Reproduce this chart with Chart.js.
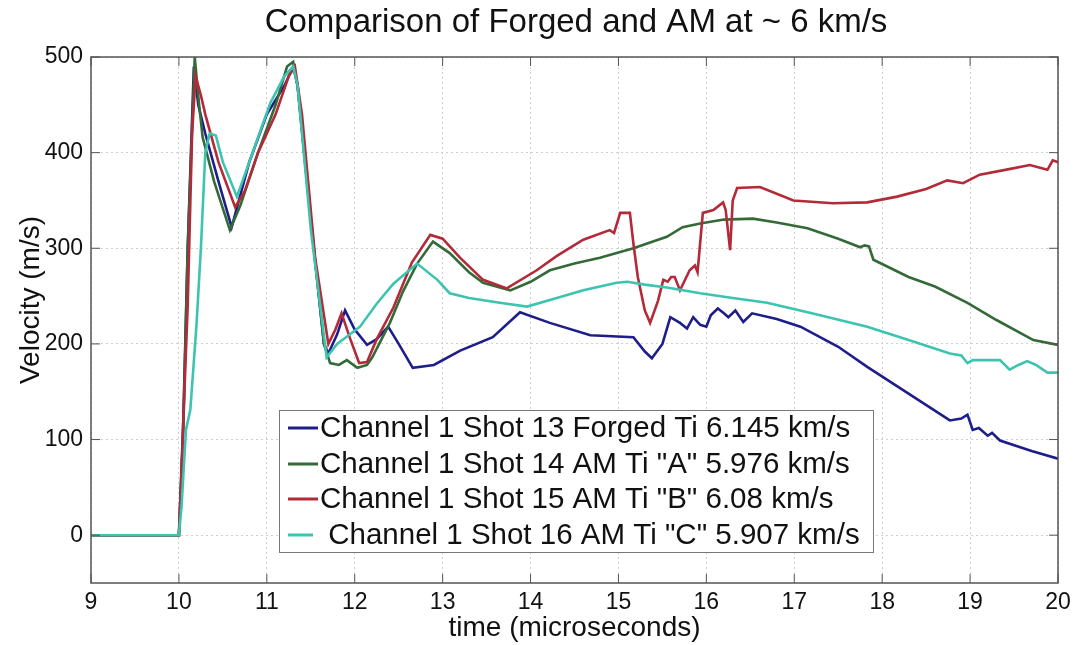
<!DOCTYPE html>
<html>
<head>
<meta charset="utf-8">
<title>Comparison of Forged and AM at ~ 6 km/s</title>
<script src="https://cdn.jsdelivr.net/npm/chart.js@4.4.1/dist/chart.umd.min.js"></script>
<style>
  html, body { margin: 0; padding: 0; background: #fff; }
  #wrap { width: 1077px; height: 645px; }
</style>
</head>
<body>
<div id="wrap"><canvas id="c" width="1077" height="645"></canvas></div>
<script>
// Free-surface velocity traces, time in microseconds, velocity in m/s
const shot13Time = [9, 10.0, 10.05, 10.1, 10.17, 10.22, 10.3, 10.45, 10.6, 10.8, 11.0, 11.2, 11.3, 11.35, 11.5, 11.65, 11.7, 11.8, 11.89, 12.0, 12.14, 12.25, 12.38, 12.5, 12.66, 12.9, 13.2, 13.57, 13.88, 14.22, 14.68, 15.17, 15.3, 15.38, 15.5, 15.59, 15.7, 15.78, 15.85, 15.93, 16.0, 16.05, 16.13, 16.2, 16.25, 16.33, 16.42, 16.52, 16.8, 17.07, 17.5, 17.83, 18.3, 18.77, 18.9, 18.97, 19.03, 19.1, 19.2, 19.25, 19.34, 19.7, 20];
const shot13Vel  = [0, 0, 120, 300, 490, 450, 420, 370, 322, 390, 440, 470, 490, 470, 330, 200, 190, 210, 235, 215, 199, 205, 218, 200, 175, 178, 193, 207, 233, 222, 209, 207, 192, 185, 200, 228, 222, 216, 228, 220, 218, 230, 237, 232, 228, 235, 223, 232, 226, 218, 197, 176, 148, 120, 122, 126, 110, 112, 104, 107, 99, 88, 80];

const shot14Time = [9, 10.0, 10.05, 10.1, 10.18, 10.23, 10.27, 10.4, 10.58, 10.7, 10.9, 11.1, 11.23, 11.3, 11.35, 11.5, 11.65, 11.72, 11.82, 11.91, 12.03, 12.14, 12.2, 12.4, 12.55, 12.71, 12.89, 13.08, 13.3, 13.46, 13.77, 14.0, 14.22, 14.5, 14.79, 15.17, 15.55, 15.73, 15.93, 16.2, 16.53, 16.8, 17.15, 17.5, 17.75, 17.8, 17.85, 17.9, 18.3, 18.6, 18.97, 19.3, 19.72, 20];
const shot14Vel  = [0, 0, 110, 300, 500, 450, 416, 370, 319, 345, 400, 450, 490, 495, 470, 330, 200, 180, 178, 183, 175, 178, 186, 222, 255, 284, 307, 295, 275, 264, 256, 265, 277, 284, 290, 300, 312, 322, 326, 330, 331, 327, 321, 310, 301, 303, 302, 288, 270, 260, 243, 225, 204, 199];

const shot15Time = [9, 10.0, 10.03, 10.05, 10.1, 10.15, 10.19, 10.25, 10.3, 10.45, 10.64, 10.75, 10.9, 11.1, 11.25, 11.32, 11.4, 11.55, 11.7, 11.78, 11.85, 11.95, 12.05, 12.14, 12.25, 12.44, 12.65, 12.86, 13.0, 13.2, 13.46, 13.73, 14.07, 14.3, 14.6, 14.9, 14.95, 15.02, 15.13, 15.17, 15.22, 15.3, 15.36, 15.45, 15.51, 15.56, 15.6, 15.64, 15.7, 15.81, 15.87, 15.9, 15.96, 16.08, 16.19, 16.22, 16.27, 16.3, 16.35, 16.61, 16.99, 17.44, 17.83, 18.17, 18.5, 18.74, 18.92, 19.11, 19.4, 19.68, 19.88, 19.94, 20];
const shot15Vel  = [0, 0, 60, 120, 240, 420, 480, 460, 440, 390, 343, 360, 400, 440, 480, 490, 440, 290, 200, 215, 232, 205, 180, 181, 205, 238, 285, 314, 310, 290, 267, 258, 277, 292, 309, 319, 316, 337, 337, 305, 270, 235, 222, 245, 267, 265, 270, 270, 256, 277, 282, 275, 337, 340, 348, 340, 298, 350, 363, 364, 350, 347, 348, 354, 362, 371, 368, 377, 382, 387, 382, 392, 390];

const shot16Time = [9, 10.0, 10.03, 10.08, 10.13, 10.2, 10.25, 10.3, 10.35, 10.42, 10.5, 10.66, 10.8, 11.04, 11.2, 11.3, 11.35, 11.5, 11.68, 11.8, 12.06, 12.25, 12.44, 12.71, 12.94, 13.08, 13.3, 13.65, 13.96, 14.22, 14.6, 14.98, 15.1, 15.3, 15.55, 15.93, 16.3, 16.69, 17.2, 17.83, 18.3, 18.77, 18.9, 18.97, 19.03, 19.2, 19.34, 19.45, 19.55, 19.65, 19.75, 19.88, 20];
const shot16Vel  = [0, 0, 30, 110, 131, 220, 300, 400, 420, 418, 390, 354, 390, 452, 480, 490, 470, 320, 186, 200, 218, 242, 263, 284, 267, 253, 248, 243, 239, 246, 256, 264, 265, 262, 259, 253, 248, 243, 232, 218, 204, 190, 188, 180, 183, 183, 183, 173, 178, 182, 178, 170, 170];

const seriesLabels = [
  'Channel 1 Shot 13 Forged Ti 6.145 km/s',
  'Channel 1 Shot 14 AM Ti "A" 5.976 km/s',
  'Channel 1 Shot 15 AM Ti "B" 6.08 km/s',
  ' Channel 1 Shot 16 AM Ti "C" 5.907 km/s'
];
const seriesColors = ['#1e1e8a', '#346a38', '#b32a38', '#3cc4b0'];

const xTicks = [9, 10, 11, 12, 13, 14, 15, 16, 17, 18, 19, 20];
const yTicks = [0, 100, 200, 300, 400, 500];

const chartTitle = 'Comparison of Forged and AM at ~ 6 km/s';
const xTitle = 'time (microseconds)';
const yTitle = 'Velocity (m/s)';

const FONT = '"Liberation Sans", Arial, Helvetica, sans-serif';

function toPoints(ts, vs) { return ts.map((t, i) => ({ x: t, y: vs[i] })); }

const traces = [
  toPoints(shot13Time, shot13Vel),
  toPoints(shot14Time, shot14Vel),
  toPoints(shot15Time, shot15Vel),
  toPoints(shot16Time, shot16Vel)
];

// Title, boxed axes and the in-plot legend
const decorations = {
  id: 'decorations',
  afterDraw(chart) {
    const ctx = chart.ctx;
    const a = chart.chartArea;
    ctx.save();
    // title
    ctx.fillStyle = '#111';
    ctx.font = '33px ' + FONT;
    ctx.textAlign = 'center';
    ctx.textBaseline = 'middle';
    ctx.fillText(chartTitle, 576, 23);
    // y-axis title
    ctx.save();
    ctx.translate(31, 300);
    ctx.rotate(-Math.PI / 2);
    ctx.font = '28px ' + FONT;
    ctx.fillText(yTitle, 0, 0);
    ctx.restore();
    // axes box
    ctx.strokeStyle = '#555';
    ctx.lineWidth = 1.5;
    ctx.strokeRect(a.left, a.top, a.right - a.left, a.bottom - a.top);
    // tick marks on the inside of the box
    const xs = chart.scales.x, ys = chart.scales.y;
    ctx.lineWidth = 1;
    ctx.beginPath();
    xTicks.forEach(t => {
      const px = xs.getPixelForValue(t);
      ctx.moveTo(px, a.bottom); ctx.lineTo(px, a.bottom - 9);
      ctx.moveTo(px, a.top); ctx.lineTo(px, a.top + 9);
    });
    yTicks.forEach(v => {
      const py = ys.getPixelForValue(v);
      ctx.moveTo(a.left, py); ctx.lineTo(a.left + 9, py);
      ctx.moveTo(a.right, py); ctx.lineTo(a.right - 9, py);
    });
    ctx.stroke();
    // legend
    const box = { x: 279, y: 410, w: 594, h: 142 };
    ctx.fillStyle = '#fff';
    ctx.fillRect(box.x, box.y, box.w, box.h);
    ctx.strokeStyle = '#777';
    ctx.lineWidth = 1;
    ctx.strokeRect(box.x + 0.5, box.y + 0.5, box.w, box.h);
    const rows = [428, 464, 499, 535];
    ctx.font = '29.5px ' + FONT;
    ctx.textAlign = 'left';
    ctx.textBaseline = 'middle';
    chart.data.datasets.forEach((ds, i) => {
      const y = rows[i];
      ctx.strokeStyle = ds.borderColor;
      ctx.lineWidth = 3;
      ctx.beginPath();
      ctx.moveTo(288, y);
      ctx.lineTo(i === 3 ? 313 : 318, y);
      ctx.stroke();
      ctx.fillStyle = '#111';
      ctx.fillText(ds.label, 320, y + 1);
    });
    ctx.restore();
  }
};

new Chart(document.getElementById('c'), {
  type: 'line',
  data: {
    datasets: traces.map((pts, i) => ({
      label: seriesLabels[i],
      data: pts,
      borderColor: seriesColors[i],
      backgroundColor: seriesColors[i],
      borderWidth: 2.6,
      pointRadius: 0,
      tension: 0,
      order: 3 - i
    }))
  },
  options: {
    responsive: false,
    animation: false,
    events: [],
    layout: { padding: { top: 57, right: 19, left: 0, bottom: 0 } },
    plugins: {
      legend: { display: false },
      title: { display: false },
      tooltip: { enabled: false }
    },
    scales: {
      x: {
        type: 'linear',
        min: 9,
        max: 20,
        afterFit(s) { s.height = 62; },
        afterBuildTicks(s) { s.ticks = xTicks.map(v => ({ value: v })); },
        grid: { color: '#cfcfcf', drawTicks: false },
        border: { display: false, dash: [2, 3] },
        ticks: { color: '#111', font: { family: FONT, size: 23 }, padding: 6, autoSkip: false, maxRotation: 0 },
        title: { display: true, text: xTitle, color: '#111', font: { family: FONT, size: 28 }, padding: { top: 0, bottom: 0 } }
      },
      y: {
        type: 'linear',
        min: -50,
        max: 500,
        afterFit(s) { s.width = 91; },
        afterBuildTicks(s) { s.ticks = yTicks.map(v => ({ value: v })); },
        grid: { color: '#cfcfcf', drawTicks: false },
        border: { display: false, dash: [2, 3] },
        ticks: { color: '#111', font: { family: FONT, size: 23 }, padding: 8 },
        title: { display: false }
      }
    }
  },
  plugins: [decorations]
});
</script>
</body>
</html>
